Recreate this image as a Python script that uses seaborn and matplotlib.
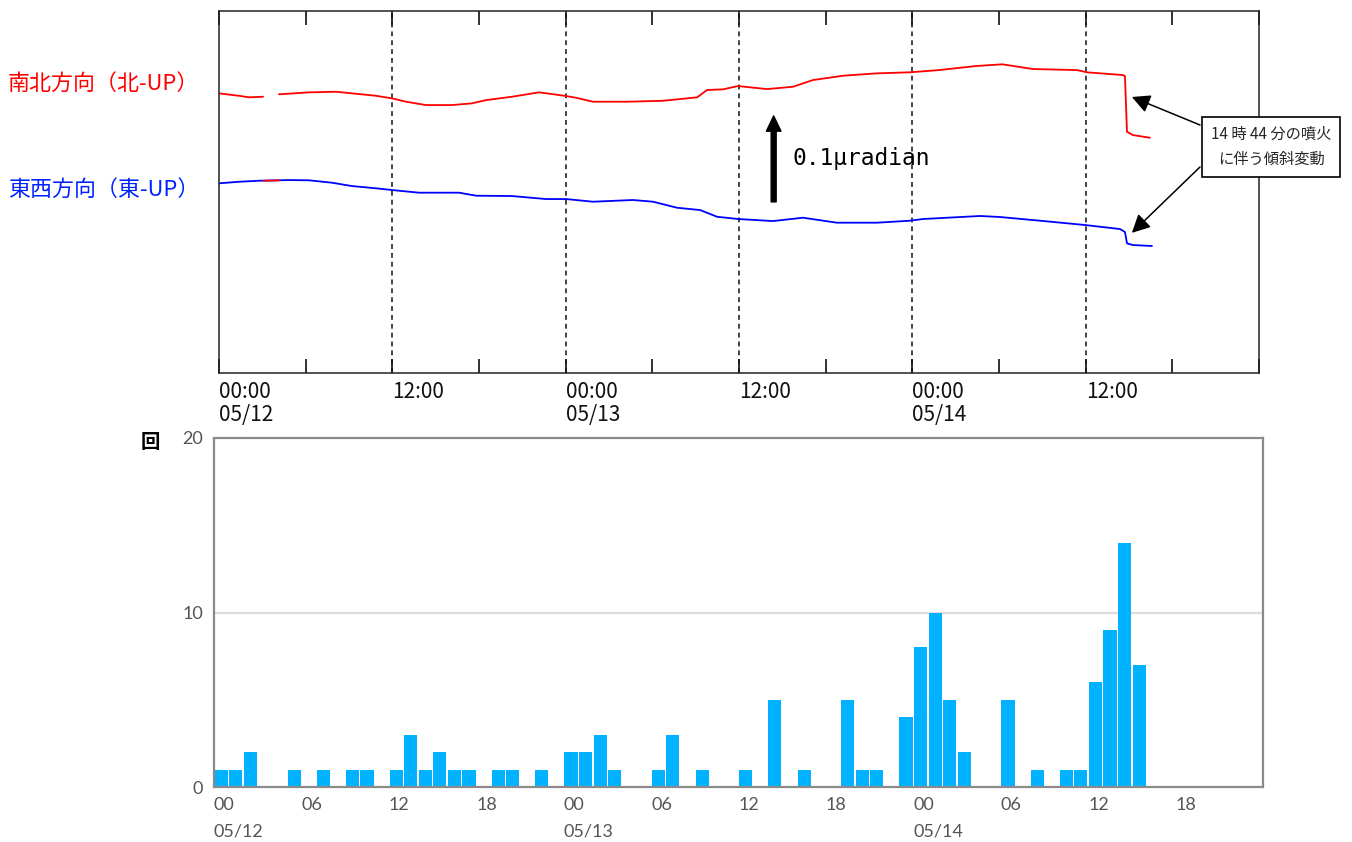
import matplotlib
matplotlib.use("Agg")
import matplotlib.pyplot as plt
import numpy as np
import pandas as pd
import seaborn as sns

# ---------------- data: tilt (micro-radian, relative) ----------------
ns_hours_a = [0.0, 1.38, 2.08, 3.05]
ns_tilt_a = [0.3252, 0.3224, 0.3206, 0.3213]
ns_hours_b = [4.15, 6.23, 8.10, 9.69, 10.87, 11.98, 12.95, 14.33, 16.13, 17.52,
              18.49, 20.29, 22.15, 23.06, 24.03, 24.72, 25.89, 28.25, 30.74, 33.10,
              33.79, 34.90, 35.93, 37.94, 39.74, 41.12, 43.20, 45.55, 47.83, 49.85,
              52.41, 54.23, 56.35, 59.40, 60.09, 62.58, 62.72, 62.86, 63.27, 64.45]
ns_tilt_b = [0.3241, 0.3264, 0.3271, 0.3244, 0.3224, 0.3194, 0.3155, 0.3116, 0.3116, 0.3136,
             0.3174, 0.3213, 0.3264, 0.3244, 0.3221, 0.3201, 0.3155, 0.3155, 0.3166, 0.3206,
             0.3291, 0.3299, 0.3337, 0.3302, 0.3329, 0.3407, 0.3457, 0.3485, 0.3497, 0.3523,
             0.3570, 0.3590, 0.3535, 0.3523, 0.3497, 0.3465, 0.3453, 0.2806, 0.2767, 0.2736]
ns_glitch_hours = [3.10, 4.15]
ns_glitch_tilt = [0.2236, 0.2240]

ew_hours = [0.0, 1.38, 2.77, 4.85, 6.23, 7.82, 9.21, 10.87, 11.98, 13.84,
            16.62, 17.79, 20.29, 22.64, 24.03, 25.89, 28.66, 30.05, 31.71, 33.31,
            34.48, 35.93, 38.35, 40.43, 42.78, 45.55, 47.83, 48.74, 52.69, 54.08,
            56.85, 59.96, 62.38, 62.72, 62.86, 63.27, 64.59]
ew_tilt = [0.2206, 0.2224, 0.2236, 0.2244, 0.2241, 0.2213, 0.2174, 0.2148, 0.2128, 0.2097,
           0.2097, 0.2062, 0.2058, 0.2023, 0.2023, 0.1992, 0.2012, 0.1992, 0.1922, 0.1895,
           0.1817, 0.1791, 0.1767, 0.1806, 0.1748, 0.1748, 0.1771, 0.1791, 0.1826, 0.1814,
           0.1771, 0.1721, 0.1674, 0.1640, 0.1508, 0.1488, 0.1477]

scale_arrow_base = 0.199   # micro-radian
scale_arrow_len = 0.1      # micro-radian
scale_arrow_hour = 38.4
eruption_hour = 63.2

top_tick_labels = ["00:00\n05/12", "", "12:00", "", "00:00\n05/13", "", "12:00", "",
                   "00:00\n05/14", "", "12:00", "", ""]

# ---------------- data: hourly event counts ----------------
event_counts = [1, 1, 2, 0, 0, 1, 0, 1, 0, 1, 1, 0,
                1, 3, 1, 2, 1, 1, 0, 1, 1, 0, 1, 0,
                2, 2, 3, 1, 0, 0, 1, 3, 0, 1, 0, 0,
                1, 0, 5, 0, 1, 0, 0, 5, 1, 1, 0, 4,
                8, 10, 5, 2, 0, 0, 5, 0, 1, 0, 1, 1,
                6, 9, 14, 7, 0, 0, 0, 0, 0, 0, 0, 0]
hour_labels = ["00\n05/12", "06", "12", "18", "00\n05/13", "06", "12", "18",
               "00\n05/14", "06", "12", "18"]

# ---------------- style ----------------
sns.set_style("white")
plt.rcParams["font.family"] = ["Noto Sans CJK JP", "DejaVu Sans"]

W, H = 1352, 842
fig = plt.figure(figsize=(W / 100, H / 100), dpi=100)

def fbox(x0, y0, x1, y1):
    return [x0 / W, 1 - y1 / H, (x1 - x0) / W, (y1 - y0) / H]

# ================= top panel =================
ax1 = fig.add_axes(fbox(219, 11, 1259, 373))
ax1.set_xlim(0, 72)
ax1.set_ylim(0, 0.421)

sns.lineplot(x=ns_hours_a, y=ns_tilt_a, ax=ax1, color="#FF0000", lw=1.3,
             estimator=None, sort=False)
sns.lineplot(x=ns_hours_b, y=ns_tilt_b, ax=ax1, color="#FF0000", lw=1.3,
             estimator=None, sort=False)
sns.lineplot(x=ew_hours, y=ew_tilt, ax=ax1, color="#0000FF", lw=1.3,
             estimator=None, sort=False)
sns.lineplot(x=ns_glitch_hours, y=ns_glitch_tilt, ax=ax1, color="#FF0000", lw=1.3,
             estimator=None, sort=False)

for h in [12, 24, 36, 48, 60]:
    ax1.axvline(h, color="#111111", lw=1.1, ls=(0, (3.2, 2.6)), zorder=0)

ax1.set_xticks(np.arange(0, 73, 6))
ax1.set_xticklabels(top_tick_labels, ha="left", fontsize=15, color="#111111")
for lbl in ax1.get_xticklabels():
    lbl.set_linespacing(1.05)
ax1.set_yticks([])
ax1.tick_params(axis="x", direction="in", length=10, width=1.2, color="#111111",
                top=True, bottom=True, pad=6)
for s in ax1.spines.values():
    s.set_color("#222222")
    s.set_linewidth(1.1)
ax1.set_xlabel("")
ax1.set_ylabel("")

# scale arrow
ax1.annotate("", xy=(scale_arrow_hour, scale_arrow_base + scale_arrow_len),
             xytext=(scale_arrow_hour, scale_arrow_base),
             arrowprops=dict(facecolor="black", edgecolor="black", width=3.6,
                             headwidth=10.5, headlength=11, shrink=0))
ax1.text(scale_arrow_hour + 1.3, scale_arrow_base + scale_arrow_len * 0.5,
         "0.1μradian", fontsize=16.5, family=["DejaVu Sans Mono", "DejaVu Sans"],
         va="center", ha="left", color="black")

# eruption annotation
fig.text(1271 / W, 1 - 147 / H, "14 時 44 分の噴火\nに伴う傾斜変動", fontsize=11,
         ha="center", va="center", linespacing=1.6,
         bbox=dict(boxstyle="square,pad=0.6", fc="white", ec="black", lw=1.2))
for (sx, sy), ty in [((1200, 125), 0.321), ((1200, 167), 0.163)]:
    ax1.annotate("", xy=(eruption_hour, ty), xycoords="data",
                 xytext=(sx, H - sy), textcoords="figure pixels",
                 arrowprops=dict(arrowstyle="-|>,head_length=0.55,head_width=0.28",
                                 mutation_scale=20, color="black", lw=1.1,
                                 shrinkA=0, shrinkB=0),
                 annotation_clip=False)

fig.text(8 / W, 1 - 84 / H, "南北方向（北-UP）", color="#FF0000", fontsize=15.8,
         ha="left", va="center")
fig.text(8 / W, 1 - 190 / H, "東西方向（東-UP）", color="#0022FF", fontsize=15.8,
         ha="left", va="center")

# ================= bottom panel =================
ax2 = fig.add_axes(fbox(214, 438, 1263, 787))
df = pd.DataFrame({"hour": np.arange(len(event_counts)), "count": event_counts})
sns.barplot(data=df, x="hour", y="count", ax=ax2, color="#00B2FF", saturation=1,
            width=0.9, native_scale=True, edgecolor="none")
ax2.set_xlim(-0.5, 71.5)
ax2.set_ylim(0, 20)
ax2.axhline(10, color="#DDDDDD", lw=1.6, zorder=0)

ax2.set_xticks(np.arange(-0.5, 72, 6)[:12])
ax2.set_xticklabels(hour_labels, ha="left", fontsize=13, color="#555555",
                    family=["Lato", "DejaVu Sans"])
for lbl in ax2.get_xticklabels():
    lbl.set_linespacing(1.85)
ax2.set_xticks(np.arange(-0.5, 72, 1), minor=True)
ax2.set_yticks([0, 10, 20])
ax2.set_yticklabels(["0", "10", "20"], fontsize=13, color="#555555",
                    family=["Lato", "DejaVu Sans"])
ax2.set_yticks([5, 15], minor=True)
ax2.tick_params(axis="x", which="major", direction="in", length=9, width=1.4,
                color="#444444", pad=7)
ax2.tick_params(axis="x", which="minor", direction="in", length=4, width=1.2,
                color="#444444")
ax2.tick_params(axis="y", which="major", direction="in", length=9.5, width=1.4,
                color="#555555", pad=8)
ax2.tick_params(axis="y", which="minor", direction="in", length=5, width=1.2,
                color="#555555")
for s in ax2.spines.values():
    s.set_color("#8A8A8A")
    s.set_linewidth(1.6)
ax2.set_xlabel("")
ax2.set_ylabel("")

fig.text(150 / W, 1 - 443 / H, "回", fontsize=14, weight="bold", ha="center",
         va="center", color="black")

fig.savefig("out.png", dpi=100)
